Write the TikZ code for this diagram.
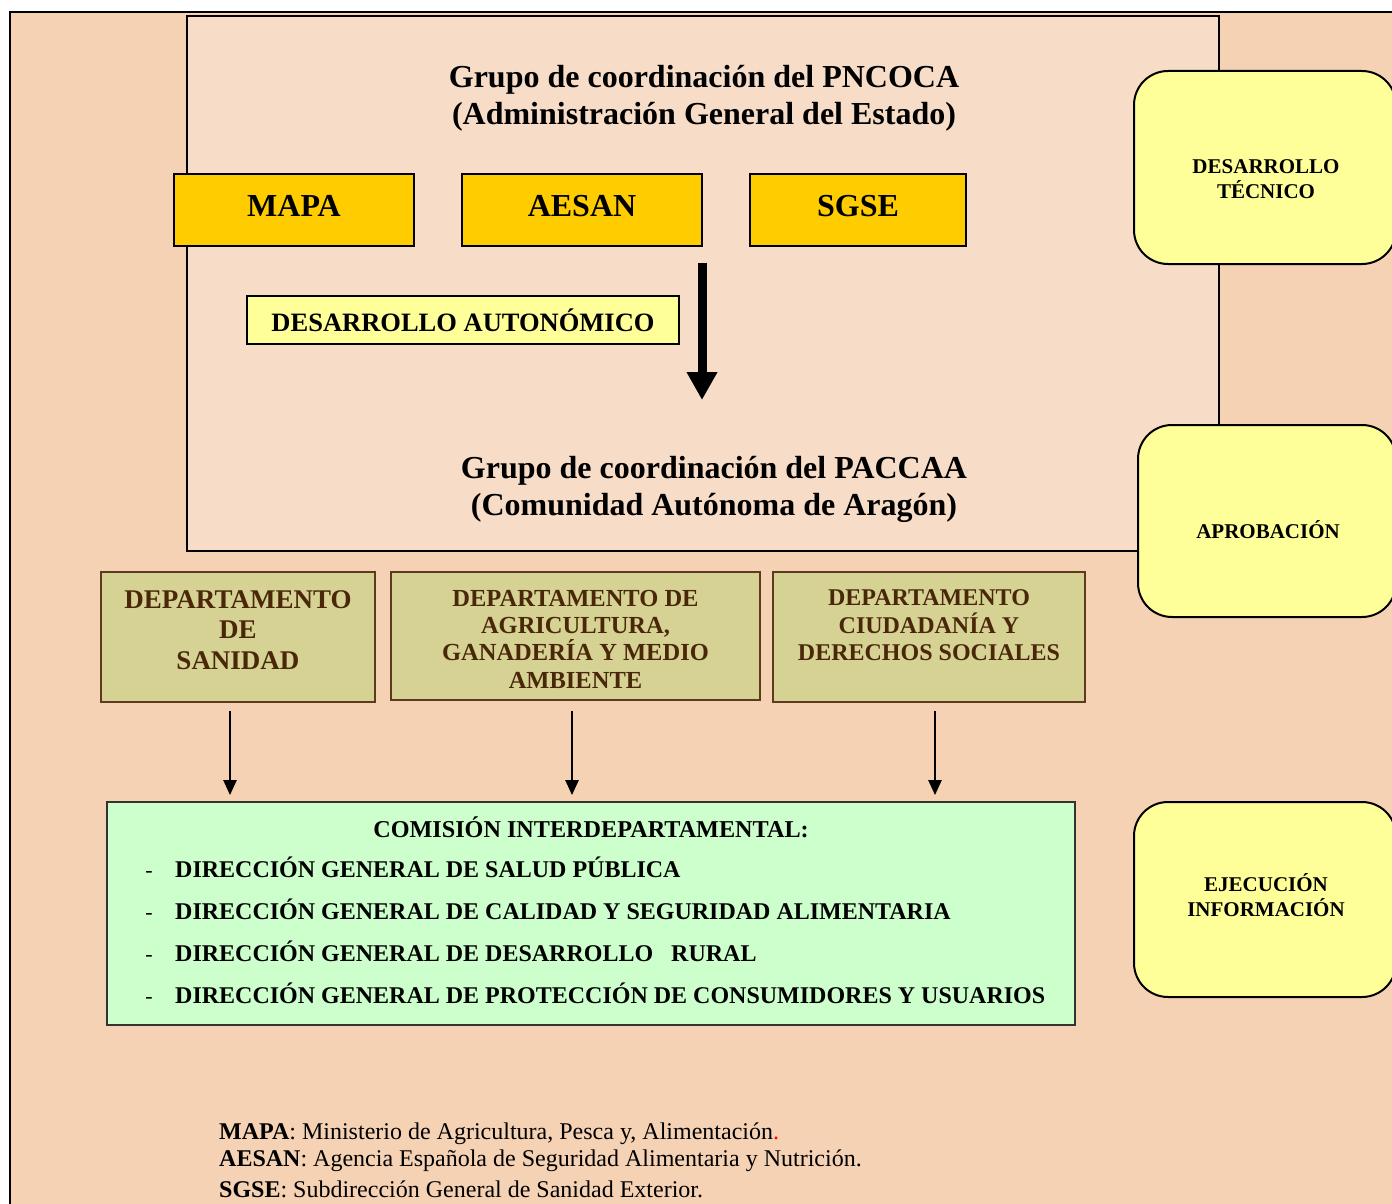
\documentclass[tikz,border=0pt]{standalone}
\usepackage{fontspec}
\setmainfont{Liberation Serif}
\usetikzlibrary{arrows.meta}
\definecolor{outerbg}{HTML}{F5D2B4}
\definecolor{innerbg}{HTML}{F7DDC8}
\definecolor{gold}{HTML}{FFCC00}
\definecolor{paleyellow}{HTML}{FFFF99}
\definecolor{khaki}{HTML}{D5D294}
\definecolor{brownline}{HTML}{5C3A1E}
\definecolor{browntext}{HTML}{4A2709}
\definecolor{palegreen}{HTML}{CCFFCC}
\tikzset{
  title/.style={align=center, font=\fontsize{32}{37}\selectfont\bfseries, inner sep=0},
  goldbox/.style={draw=black, line width=1.8, fill=gold, minimum width=240, minimum height=72, inner sep=0},
  goldtext/.style={inner sep=0, font=\fontsize{32}{36}\selectfont\bfseries},
  roundbox/.style={draw=black, line width=2, fill=paleyellow, rounded corners=34, inner sep=0},
  roundtext/.style={align=center, font=\fontsize{21}{25}\selectfont\bfseries, inner sep=0},
  deptbox/.style={draw=brownline, line width=1.8, fill=khaki, inner sep=0},
  depttext/.style={align=center, text=browntext, inner sep=0},
  thinarrow/.style={-{Triangle[length=15,width=13]}, line width=2.4, shorten >=6},
  listtext/.style={anchor=base west, font=\fontsize{24}{28}\selectfont\bfseries, inner sep=0},
  dashtext/.style={anchor=base, font=\fontsize{22}{26}\selectfont, inner sep=0},
  foottext/.style={anchor=west, font=\fontsize{24}{28}\selectfont, inner sep=0}
}
\begin{document}
\begin{tikzpicture}[x=1pt,y=-1pt]
\useasboundingbox (0,0) rectangle (1392,1204);
\clip (0,0) rectangle (1392,1204);
\fill[white] (0,0) rectangle (1392,1204);
% outer frame
\draw[line width=2, fill=outerbg] (10,12) rectangle (1430,1240);
% inner group box
\draw[line width=2, fill=innerbg] (187,16) rectangle (1219,551);

\node[title] (t1) at (704,98) {Grupo de coordinación del PNCOCA\\(Administración General del Estado)};

\node[goldbox] (mapa) at (294,210) {};
\node[goldtext] (mapat) at (294,206) {MAPA};
\node[goldbox] (aesan) at (582,210) {};
\node[goldtext] (aesant) at (582,206) {AESAN};
\node[goldbox, minimum width=216] (sgse) at (858,210) {};
\node[goldtext] (sgset) at (858,206) {SGSE};

\node[draw=black, line width=1.8, fill=paleyellow, minimum width=432, minimum height=48, inner sep=0,
      font=\fontsize{26.5}{30}\selectfont\bfseries] (dauto) at (463,320) {DESARROLLO AUTONÓMICO};

\coordinate (bigA) at (702,263);
\coordinate (bigB) at (702,400);
\draw[-{Triangle[length=28,width=29]}, line width=9] (bigA) -- (bigB);

\node[title] (t2) at (714,489) {Grupo de coordinación del PACCAA\\(Comunidad Autónoma de Aragón)};

% rounded boxes on the right
\node[roundbox, minimum width=262, minimum height=193] (r1) at (1265,167.5) {};
\node[roundtext] (r1t) at (1266,179) {DESARROLLO\\TÉCNICO};
\node[roundbox, minimum width=258, minimum height=192] (r2) at (1267,521) {};
\node[roundtext] (r2t) at (1268,530) {APROBACIÓN};
\node[roundbox, minimum width=262, minimum height=195] (r3) at (1265,899.5) {};
\node[roundtext] (r3t) at (1266,895) {EJECUCIÓN\\INFORMACIÓN};

% departments
\node[deptbox, minimum width=274, minimum height=130] (d1) at (238,637) {};
\node[depttext, font=\fontsize{27}{30.5}\selectfont\bfseries] (d1t) at (238,630) {DEPARTAMENTO\\DE\\SANIDAD};
\node[deptbox, minimum width=369, minimum height=128] (d2) at (575.5,636) {};
\node[depttext, font=\fontsize{24.5}{27.3}\selectfont\bfseries] (d2t) at (575.5,639) {DEPARTAMENTO DE\\AGRICULTURA,\\GANADERÍA Y MEDIO\\AMBIENTE};
\node[deptbox, minimum width=312, minimum height=130] (d3) at (929,637) {};
\node[depttext, font=\fontsize{24}{27.5}\selectfont\bfseries] (d3t) at (929,625.5) {DEPARTAMENTO\\CIUDADANÍA Y\\DERECHOS SOCIALES};

% commission
\node[draw=black!80, line width=1.8, fill=palegreen, minimum width=968, minimum height=223, inner sep=0] (com) at (591,913.5) {};

\coordinate (a1s) at (230,711);
\coordinate (a2s) at (572,711);
\coordinate (a3s) at (935,711);
\draw[thinarrow] (a1s) -- (a1s |- com.north);
\draw[thinarrow] (a2s) -- (a2s |- com.north);
\draw[thinarrow] (a3s) -- (a3s |- com.north);

\node[font=\fontsize{24.2}{28}\selectfont\bfseries, inner sep=0] (comt) at (591,827) {COMISIÓN INTERDEPARTAMENTAL:};
\foreach \y/\n/\t in {877/l1/DIRECCIÓN GENERAL DE SALUD PÚBLICA,
                     919/l2/DIRECCIÓN GENERAL DE CALIDAD Y SEGURIDAD ALIMENTARIA,
                     961/l3/DIRECCIÓN GENERAL DE DESARROLLO \ \ RURAL,
                     1003/l4/DIRECCIÓN GENERAL DE PROTECCIÓN DE CONSUMIDORES Y USUARIOS}{
  \node[dashtext] (\n d) at (149,\y) {-};
  \node[listtext] (\n) at (175,\y) {\t};
}

% footer
\node[foottext] (f1) at (219,1134) {\textbf{MAPA}: Ministerio de Agricultura, Pesca y, Alimentación\textcolor{red}{.}};
\node[foottext] (f2) at (219,1161) {\textbf{AESAN}: Agencia Española de Seguridad Alimentaria y Nutrición.};
\node[foottext] (f3) at (219,1189) {\textbf{SGSE}: Subdirección General de Sanidad Exterior.};
\end{tikzpicture}
\end{document}
